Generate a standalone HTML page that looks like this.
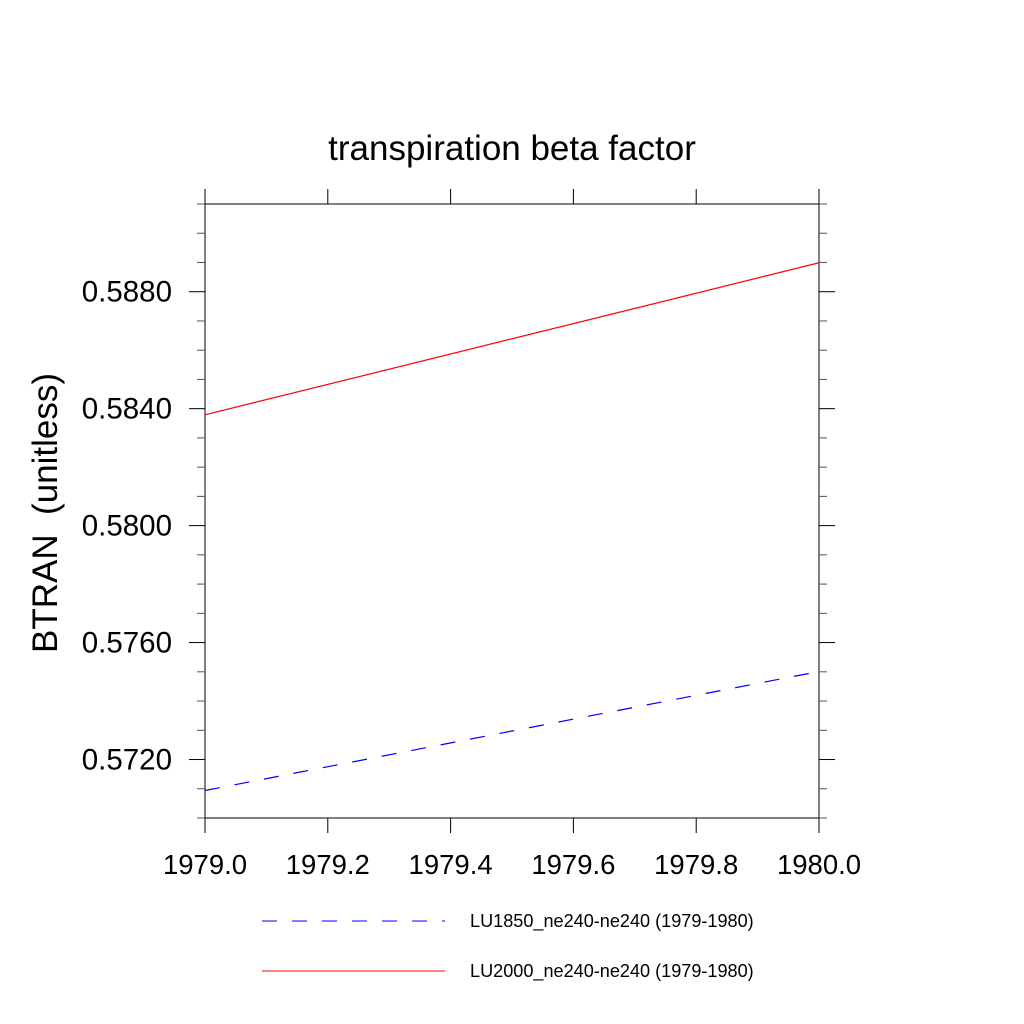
<!DOCTYPE html>
<html><head><meta charset="utf-8"><style>body{margin:0;background:#fff}svg{display:block;font-family:"Liberation Sans",sans-serif}</style></head>
<body>
<svg id="chart" width="1024" height="1024" xmlns="http://www.w3.org/2000/svg">
<rect width="1024" height="1024" fill="#fff"/>
<text x="512" y="160" font-size="35" text-anchor="middle">transpiration beta factor</text>
<text transform="translate(57,513) rotate(-90)" font-size="35" text-anchor="middle">BTRAN&#160;&#160;(unitless)</text>
<g id="axes"></g>
<g id="series"></g>
<g>
<line x1="262" y1="921" x2="445" y2="921" stroke="#00f" stroke-dasharray="15,15"/>
<text x="470" y="927" font-size="18.1">LU1850_ne240-ne240 (1979-1980)</text>
<line x1="262" y1="971" x2="445" y2="971" stroke="#f00"/>
<text x="470" y="977" font-size="18.1">LU2000_ne240-ne240 (1979-1980)</text>
</g>
</svg>
<script>
const xVals=[1979.0,1980.0];
const lu1850=[0.57094,0.57501];
const lu2000=[0.58379,0.58899];
const xTicks=[1979.0,1979.2,1979.4,1979.6,1979.8,1980.0];
const xTickLabels=["1979.0","1979.2","1979.4","1979.6","1979.8","1980.0"];
const yTicks=[0.572,0.576,0.580,0.584,0.588];
const yTickLabels=["0.5720","0.5760","0.5800","0.5840","0.5880"];
const yMinor=[0.570,0.571,0.573,0.574,0.575,0.577,0.578,0.579,0.581,0.582,0.583,0.585,0.586,0.587,0.589,0.590,0.591];
const L=205,R=819,T=204,B=818,x0=1979,x1=1980,y0=0.5700,y1=0.5910;
const sx=v=>L+(v-x0)/(x1-x0)*(R-L);
const sy=v=>B-(v-y0)/(y1-y0)*(B-T);
const NS="http://www.w3.org/2000/svg";
const ax=document.getElementById('axes'),se=document.getElementById('series');
function mk(tag,at,p){const e=document.createElementNS(NS,tag);for(const k in at)e.setAttribute(k,at[k]);p.appendChild(e);return e;}
const fr=mk('rect',{x:L,y:T,width:R-L,height:B-T,fill:'none',stroke:'#000','stroke-width':1},ax);


xTicks.forEach((v,i)=>{const x=sx(v);
 const a=mk('line',{x1:x,x2:x,y1:B,y2:B+15,stroke:'#000'},ax);
 
 
 const b=mk('line',{x1:x,x2:x,y1:T,y2:T-15,stroke:'#000'},ax);
 
 
 const t=mk('text',{x:x,y:874,'font-size':27.5,'text-anchor':'middle'},ax);t.textContent=xTickLabels[i];
 
 
});
yTicks.forEach((v,i)=>{const y=sy(v);
 const a=mk('line',{x1:L-16,x2:L,y1:y,y2:y,stroke:'#000'},ax);
 
 
 const b=mk('line',{x1:R,x2:R+16,y1:y,y2:y,stroke:'#000'},ax);
 
 
 const t=mk('text',{x:172,y:y+10,'font-size':29.5,'text-anchor':'end'},ax);t.textContent=yTickLabels[i];
 
 
});
yMinor.forEach(v=>{const y=sy(v);
 const a=mk('line',{x1:L-8,x2:L,y1:y,y2:y,stroke:'#555'},ax);
 
 
 const b=mk('line',{x1:R,x2:R+8,y1:y,y2:y,stroke:'#555'},ax);
 
 
});
function line(vals,color,dash,name){const pts=xVals.map((x,i)=>sx(x)+','+sy(vals[i])).join(' ');
 const p=mk('polyline',{points:pts,fill:'none',stroke:color,'stroke-width':1.2},se);
 if(dash)p.setAttribute('stroke-dasharray',dash);
 
 }
line(lu1850,'#00f','15,15','line-lu1850');
line(lu2000,'#f00',null,'line-lu2000');
</script>
</body></html>
